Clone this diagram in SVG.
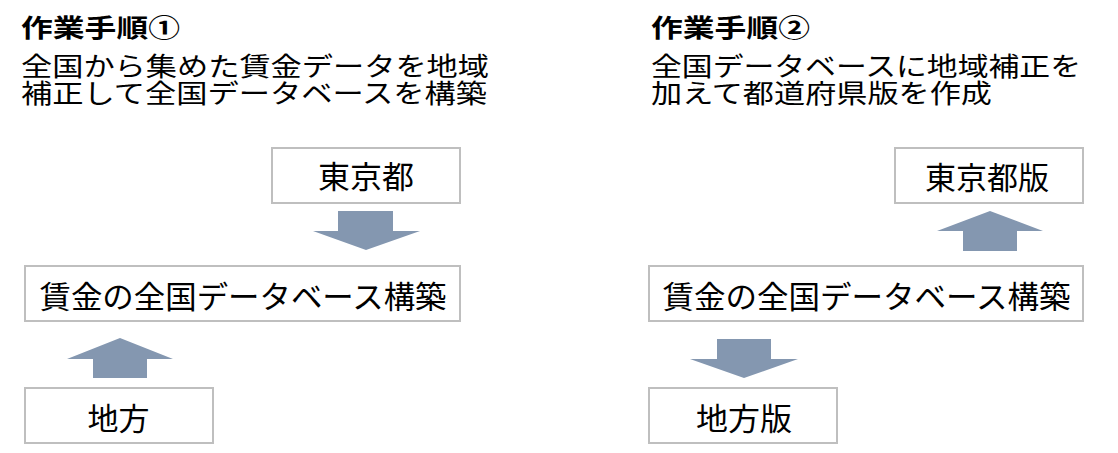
<svg xmlns="http://www.w3.org/2000/svg" width="1118" height="453" viewBox="0 0 1118 453">
<style>
  text { font-family: "Noto Sans CJK JP", "Noto Sans CJK SC", sans-serif; fill: #000; }
  .title { font-size: 25px; font-weight: bold; }
  .desc { font-size: 26.5px; }
  .box rect { fill: #ffffff; stroke: #bfbfbf; stroke-width: 2; }
  .box text { font-size: 31px; text-anchor: middle; }
  .arrow { fill: #8497b0; }
</style>
<rect width="1118" height="453" fill="#ffffff"/>

<g id="heading-1">
  <text class="title" x="21" y="37" textLength="159" lengthAdjust="spacingAndGlyphs">作業手順①</text>
  <text class="desc" x="21" y="76" textLength="468" lengthAdjust="spacingAndGlyphs">全国から集めた賃金データを地域</text>
  <text class="desc" x="21" y="103" textLength="466" lengthAdjust="spacingAndGlyphs">補正して全国データベースを構築</text>
</g>
<g id="heading-2">
  <text class="title" x="651" y="37" textLength="159" lengthAdjust="spacingAndGlyphs">作業手順②</text>
  <text class="desc" x="651" y="76" textLength="430" lengthAdjust="spacingAndGlyphs">全国データベースに地域補正を</text>
  <text class="desc" x="651" y="103" textLength="341" lengthAdjust="spacingAndGlyphs">加えて都道府県版を作成</text>
</g>

<g id="node-tokyo" class="box">
  <rect x="272" y="148" width="188" height="55"/>
  <text x="366" y="188" textLength="96" lengthAdjust="spacingAndGlyphs">東京都</text>
</g>
<g id="node-db-1" class="box">
  <rect x="25" y="266" width="435" height="55"/>
  <text x="243" y="308" textLength="407" lengthAdjust="spacingAndGlyphs">賃金の全国データベース構築</text>
</g>
<g id="node-chiho" class="box">
  <rect x="25" y="388" width="188" height="55"/>
  <text x="118.5" y="430" textLength="62" lengthAdjust="spacingAndGlyphs">地方</text>
</g>

<g id="node-tokyo-ban" class="box">
  <rect x="895" y="148" width="188" height="55"/>
  <text x="987" y="189" textLength="124" lengthAdjust="spacingAndGlyphs">東京都版</text>
</g>
<g id="node-db-2" class="box">
  <rect x="649" y="266" width="434" height="55"/>
  <text x="866.5" y="308" textLength="408" lengthAdjust="spacingAndGlyphs">賃金の全国データベース構築</text>
</g>
<g id="node-chiho-ban" class="box">
  <rect x="649" y="388" width="188" height="55"/>
  <text x="744" y="430" textLength="96" lengthAdjust="spacingAndGlyphs">地方版</text>
</g>

<g id="connectors">
  <polygon class="arrow" points="338,211 393,211 393,231 420,231 366,250 313,231 338,231"/>
  <polygon class="arrow" points="120,338 173,359 147,359 147,378 93,378 93,359 67,359"/>
  <polygon class="arrow" points="990,211 1043,231 1017,231 1017,251 963,251 963,231 937,231"/>
  <polygon class="arrow" points="717,339 771,339 771,359 798,359 744,378 690,359 717,359"/>
</g>
</svg>
